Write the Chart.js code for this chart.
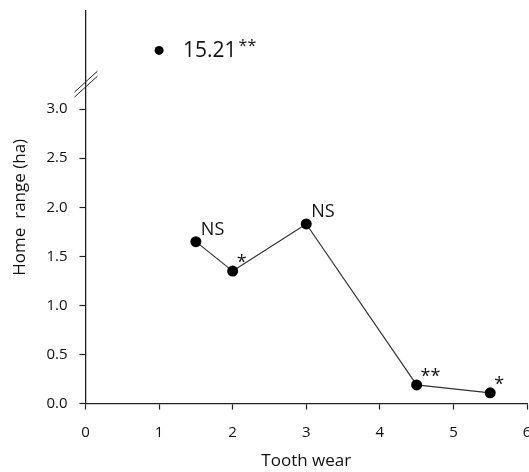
<!DOCTYPE html>
<html>
<head>
<meta charset="utf-8">
<script src="https://cdn.jsdelivr.net/npm/chart.js@4.4.0/dist/chart.umd.min.js"></script>
<style>
  html, body { margin: 0; padding: 0; background: #fff; overflow: hidden; }
</style>
</head>
<body>
<canvas id="myChart" width="529" height="472"></canvas>
<script>
// data
const toothWear = [1.5, 2, 3, 4.5, 5.5];
const homeRange = [1.65, 1.35, 1.83, 0.19, 0.11];
const signif = ['NS', '*', 'NS', '**', '*'];

const outlierWear = [1];
const outlierRange = [15.21];
const outlierSignif = ['**'];

const xTicks = [0, 1, 2, 3, 4, 5, 6];
const yTicks = [0, 0.5, 1.0, 1.5, 2.0, 2.5, 3.0];

// broken axis: real values above the break are squeezed into the top part
const breakAt = 3.25;
const upperStart = 14.5;
const upperScale = 0.35;
const upperBase = 3.35;

function toAxis(v) {
    return v <= breakAt ? v : upperBase + (v - upperStart) * upperScale;
}
function fromAxis(v) {
    return v <= breakAt ? v : upperStart + (v - upperBase) / upperScale;
}

class BrokenScale extends Chart.LinearScale {
    getPixelForValue(value) {
        return super.getPixelForValue(toAxis(value));
    }
    getValueForPixel(pixel) {
        return fromAxis(super.getValueForPixel(pixel));
    }
}
BrokenScale.id = 'broken';
BrokenScale.defaults = Chart.LinearScale.defaults;
Chart.register(BrokenScale);

const FONT = '"Open Sans", "Noto Sans", sans-serif';

// the two slashes on the y axis
const breakMarks = {
    id: 'breakMarks',
    afterDraw(chart) {
        const c = chart.ctx;
        const x = chart.scales.x.left;
        const y = chart.scales.y.getPixelForValue(breakAt);
        c.save();
        c.strokeStyle = '#222';
        c.lineWidth = 1;
        [-2.5, 2.5].forEach(function(d) {
            c.beginPath();
            c.moveTo(x - 11, y + 10 + d);
            c.lineTo(x + 12, y - 11 + d);
            c.stroke();
        });
        c.restore();
    }
};

// significance labels next to the points
const pointLabels = {
    id: 'pointLabels',
    afterDatasetsDraw(chart) {
        const c = chart.ctx;
        c.save();
        c.fillStyle = '#111';
        c.textBaseline = 'alphabetic';
        c.textAlign = 'left';
        const pts = chart.getDatasetMeta(0).data;
        pts.forEach(function(p, i) {
            const txt = signif[i];
            c.font = '18px ' + FONT;
            if (txt === 'NS') {
                c.fillText(txt, p.x + 5, p.y - 7);
            } else {
                c.fillText(txt, p.x + 4, p.y - 3);
            }
        });
        const op = chart.getDatasetMeta(1).data[0];
        const label = outlierRange[0].toFixed(2);
        c.font = '21px ' + FONT;
        c.fillText(label, op.x + 24, op.y + 7);
        const w = c.measureText(label).width;
        c.font = '16px ' + FONT;
        c.fillText(outlierSignif[0], op.x + 26 + w, op.y + 1);
        c.restore();
    }
};

const ctx = document.getElementById('myChart').getContext('2d');
const myChart = new Chart(ctx, {
    type: 'line',
    data: {
        datasets: [{
            data: toothWear.map((x, i) => ({ x: x, y: homeRange[i] })),
            borderColor: '#333',
            borderWidth: 1.2,
            pointRadius: 5.5,
            pointBackgroundColor: '#000',
            pointBorderColor: '#000',
            pointBorderWidth: 0,
            fill: false,
            tension: 0
        }, {
            data: outlierWear.map((x, i) => ({ x: x, y: outlierRange[i] })),
            showLine: false,
            pointRadius: 4.5,
            pointBackgroundColor: '#000',
            pointBorderColor: '#000',
            pointBorderWidth: 0
        }]
    },
    options: {
        responsive: false,
        animation: false,
        events: [],
        layout: { autoPadding: false, padding: { top: 11, left: 10, right: 2 } },
        plugins: {
            legend: { display: false },
            tooltip: { enabled: false }
        },
        scales: {
            x: {
                type: 'linear',
                min: 0,
                max: 6,
                afterBuildTicks: function(axis) {
                    axis.ticks = xTicks.map(v => ({ value: v }));
                },
                afterFit: function(axis) {
                    // let the last label run off the right edge like the original
                    axis.paddingRight = 0;
                },
                ticks: {
                    color: '#111',
                    font: { family: FONT, size: 15 },
                    padding: 14,
                    maxRotation: 0
                },
                grid: {
                    drawOnChartArea: false,
                    tickLength: 6,
                    tickColor: '#222',
                    tickWidth: 1.2
                },
                border: { color: '#222', width: 1.3 },
                title: {
                    display: true,
                    text: 'Tooth wear',
                    color: '#111',
                    font: { family: FONT, size: 17 },
                    padding: { top: -5, bottom: 1 }
                }
            },
            y: {
                type: 'broken',
                min: 0,
                max: 4,
                afterBuildTicks: function(axis) {
                    axis.ticks = yTicks.map(v => ({ value: v }));
                },
                afterFit: function(axis) {
                    // top tick is not at the top of the axis
                    axis.paddingTop = 0;
                },
                ticks: {
                    color: '#111',
                    font: { family: FONT, size: 15 },
                    padding: 12,
                    callback: v => v.toFixed(1)
                },
                grid: {
                    drawOnChartArea: false,
                    tickLength: 6,
                    tickColor: '#222',
                    tickWidth: 1.2
                },
                border: { color: '#222', width: 1.3 },
                title: {
                    display: true,
                    text: 'Home  range (ha)',
                    color: '#111',
                    font: { family: FONT, size: 17 },
                    padding: { top: 0, bottom: 4 }
                }
            }
        }
    },
    plugins: [breakMarks, pointLabels]
});
</script>
</body>
</html>
